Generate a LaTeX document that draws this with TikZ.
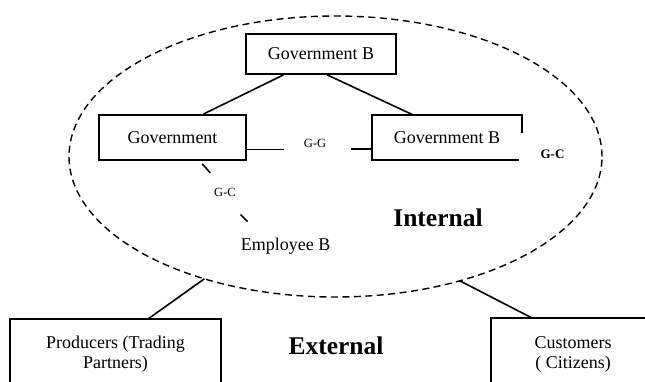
\documentclass[tikz,border=0pt]{standalone}
\usepackage{fontspec}
\setmainfont{Liberation Serif}
\usetikzlibrary{shapes.geometric,calc}
\begin{document}
\begin{tikzpicture}[x=1pt,y=-1pt,
  box/.style={draw,line width=1.7pt,minimum width=150pt,minimum height=40pt,inner sep=0pt,font=\fontsize{18}{20}\selectfont},
  txt/.style={inner sep=0pt,align=center,font=\fontsize{18}{20}\selectfont},
  small/.style={inner sep=0pt,font=\fontsize{12.5}{14}\selectfont},
  smallbold/.style={inner sep=0pt,font=\fontsize{13}{15}\selectfont\bfseries},
  big/.style={inner sep=0pt,font=\fontsize{25.5}{28}\selectfont\bfseries},
  conn/.style={line width=1.6pt},
  outline/.style={line width=1.7pt},
  dsh/.style={line width=1.4pt,dash pattern=on 7pt off 4.5pt}]
\useasboundingbox (0,0) rectangle (645,381);
% region
\node[ellipse,draw,dsh,minimum width=533pt,minimum height=281pt,inner sep=0pt,outer sep=0pt] (ell) at (335.5,156.5) {};
% boxes
\node[box,minimum width=150pt,minimum height=40pt] (gb) at (321,54) {Government B};
\node[box,minimum width=147pt,minimum height=45pt] (gov) at (172.5,137.5) {Government};
\node[txt,minimum width=150pt,minimum height=45pt] (gbr) at (447,137.5) {Government B};
\draw[outline] ($(gbr.south east)+(-3,0)$) -- (gbr.south west) -- (gbr.north west) -- (gbr.north east) -- ($(gbr.north east)+(0,18)$);
% labels
\node[small] (gg) at (315,143) {G-G};
\node[small] (gc1) at (225,192) {G-C};
\node[smallbold] (gc2) at (552.5,154) {G-C};
\node[txt] (emp) at (285.5,246.5) {Employee B};
\node[big] (int) at (438,217.5) {Internal};
\node[big] (ext) at (336,345.5) {External};
% external boxes
\node[txt] (prod) at (115.5,354.5) {Producers (Trading\\Partners)};
\node[txt] (cust) at (573,354) {Customers\\( Citizens)};
\coordinate (ptl) at (10,319);
\coordinate (ptr) at (221,319);
\draw[outline] (10,390) -- (ptl) -- (ptr) -- (221,390);
\coordinate (ctl) at (491,318);
\draw[outline] (491,390) -- (ctl) -- (660,318);
% connectors
\draw[conn] ($(gb.south west)!0.253!(gb.south east)$) -- ($(gov.north west)!0.707!(gov.north east)$);
\draw[conn] ($(gb.south west)!0.54!(gb.south east)$) -- ($(gbr.north west)!0.273!(gbr.north east)$);
\draw[conn] ($(gov.north east)!0.756!(gov.south east)$) -- ++(37,0);
\draw[conn] ($(gbr.north west)!0.756!(gbr.south west)$) -- ++(-21,0);
\draw[conn] ($(gov.south west)!0.70!(gov.south east)$) ++(0,3) -- ++(8,9);
\draw[conn] ($(emp.north west)+(0,-23.5)$) -- ++(7,7);
\draw[conn] (ell.223.5) -- ($(ptl)!0.654!(ptr)$);
\draw[conn] (ell.315.5) -- ($(ctl)+(41,0)$);
\end{tikzpicture}
\end{document}
